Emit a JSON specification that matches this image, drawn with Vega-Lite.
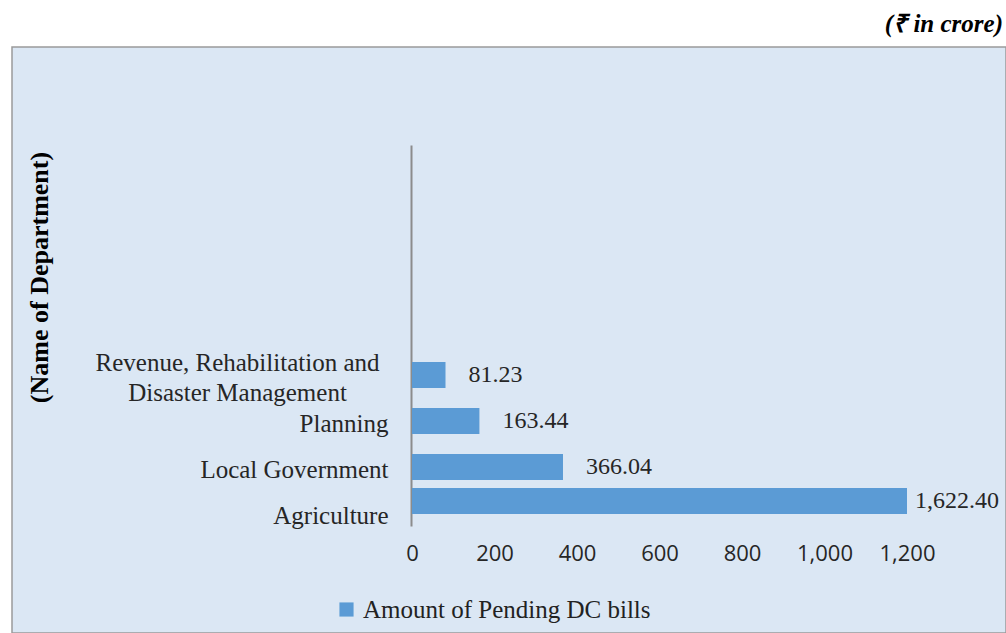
{
  "$schema": "https://vega.github.io/schema/vega-lite/v6.json",
  "width": 994,
  "height": 586,
  "autosize": {"type": "none"},
  "padding": {"left": 12, "top": 47, "right": 0, "bottom": 0},
  "background": "white",
  "title": {
    "text": "(₹ in crore)",
    "anchor": "end",
    "frame": "group",
    "orient": "top",
    "font": "Liberation Serif",
    "fontSize": 25,
    "fontWeight": "bold",
    "fontStyle": "italic",
    "color": "#000000",
    "offset": 10,
    "dx": -3
  },
  "data": {
    "values": [
      {"department": "Revenue, Rehabilitation and Disaster Management", "amount": 81.23},
      {"department": "Planning", "amount": 163.44},
      {"department": "Local Government", "amount": 366.04},
      {"department": "Agriculture", "amount": 1622.40}
    ]
  },
  "encoding": {
    "y": {
      "field": "department",
      "type": "nominal",
      "sort": ["_a", "_b", "_c", "_d", "Revenue, Rehabilitation and Disaster Management", "Planning", "Local Government", "Agriculture"],
      "scale": {
        "domain": ["_a", "_b", "_c", "_d", "Revenue, Rehabilitation and Disaster Management", "Planning", "Local Government", "Agriculture"],
        "range": [98, 479],
        "paddingInner": 0.435,
        "paddingOuter": 0.36,
        "align": 1
      },
      "axis": {
        "title": "(Name of Department)",
        "offset": -399,
        "domainColor": "#8c8c8c",
        "domainWidth": 2,
        "ticks": false,
        "grid": false,
        "labelExpr": "indexof(datum.value, '_') == 0 ? '' : (datum.value == 'Revenue, Rehabilitation and Disaster Management' ? ['Revenue, Rehabilitation and', 'Disaster Management'] : datum.value)",
        "labelAlign": {"condition": {"test": "indexof(datum.value, 'Revenue') == 0", "value": "center"}, "value": "right"},
        "labelPadding": {"condition": {"test": "indexof(datum.value, 'Revenue') == 0", "value": 174}, "value": 23},
        "labelOffset": {"condition": {"test": "indexof(datum.value, 'Revenue') == 0", "value": -12}, "value": 3},
        "labelFont": "Liberation Serif",
        "labelFontSize": 25,
        "labelColor": "#262626",
        "labelLineHeight": 30,
        "labelBaseline": "middle",
        "labelLimit": 400,
        "titleFont": "Liberation Serif",
        "titleFontSize": 26,
        "titleFontWeight": "bold",
        "titleColor": "#000000",
        "titleX": -372,
        "titleY": 230,
        "titleAngle": 270,
        "titleAlign": "center",
        "titleBaseline": "middle"
      }
    },
    "x": {
      "field": "amount",
      "type": "quantitative",
      "scale": {"domain": [0, 1200], "range": [400, 895], "clamp": true, "nice": false, "zero": true},
      "axis": {
        "title": null,
        "domain": false,
        "ticks": false,
        "grid": false,
        "values": [0, 200, 400, 600, 800, 1000, 1200],
        "format": ",.0f",
        "offset": -90,
        "labelPadding": 0,
        "labelFlush": false,
        "labelFont": "Open Sans",
        "labelFontSize": 22,
        "labelColor": "#262626"
      }
    }
  },
  "layer": [
    {
      "mark": {
        "type": "bar",
        "yOffset": {"expr": "datum.department == 'Agriculture' ? -12 : 0"}
      },
      "encoding": {
        "color": {
          "datum": "Amount of Pending DC bills",
          "type": "nominal",
          "scale": {"range": ["#5b9bd5"]},
          "legend": {
            "orient": "none",
            "legendX": 322,
            "legendY": 550,
            "title": null,
            "symbolType": "square",
            "symbolSize": 200,
            "symbolStrokeWidth": 0,
            "labelFont": "Liberation Serif",
            "labelFontSize": 25,
            "labelColor": "#222222",
            "labelOffset": 4,
            "labelLimit": 500,
            "padding": 0
          }
        }
      }
    },
    {
      "mark": {
        "type": "text",
        "align": "left",
        "baseline": "middle",
        "font": "Liberation Serif",
        "fontSize": 24,
        "color": "#262626",
        "dx": {"expr": "datum.amount > 1200 ? 8 : 23"},
        "yOffset": {"expr": "datum.department == 'Agriculture' ? -12 : 0"}
      },
      "encoding": {
        "text": {"field": "amount", "type": "quantitative", "format": ",.2f"}
      }
    }
  ],
  "config": {
    "view": {"fill": "#dbe7f4", "stroke": "#9a9a9a", "strokeWidth": 1.5}
  }
}
